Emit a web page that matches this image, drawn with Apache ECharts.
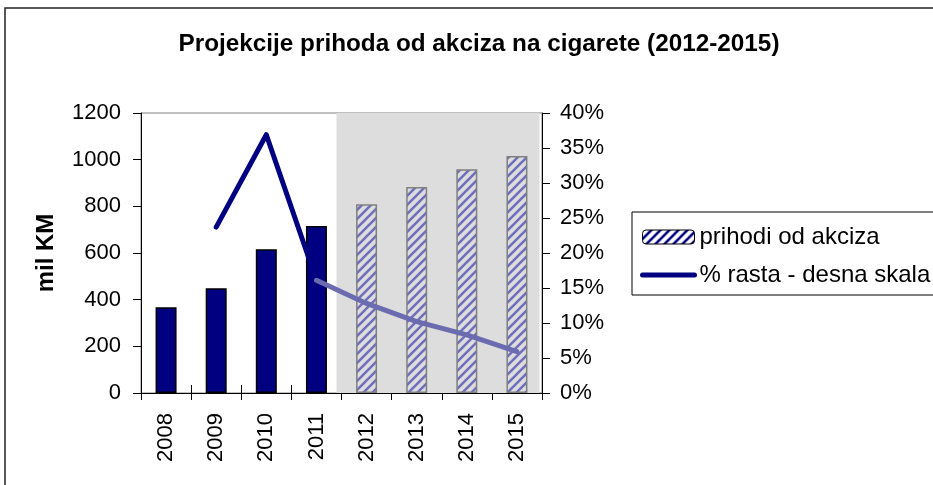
<!DOCTYPE html>
<html>
<head>
<meta charset="utf-8">
<script src="https://cdn.jsdelivr.net/npm/echarts@6/dist/echarts.min.js"></script>
<style>
html, body { margin: 0; padding: 0; background: #fff; }
#chart { width: 933px; height: 485px; }
</style>
</head>
<body>
<div id="chart"></div>
<script>
// podaci
var years = ['2008', '2009', '2010', '2011', '2012', '2013', '2014', '2015'];
var revenue = [367, 449, 616, 716, 809, 883, 959, 1016];
var growth = [null, 23.7, 36.9, 16.1, 12.8, 10.2, 8.3, 5.9];
var firstProjected = 4; // 2012

function hatch(fg, bg) {
	var c = document.createElement('canvas');
	c.width = 9; c.height = 9;
	var ctx = c.getContext('2d');
	if (bg) { ctx.fillStyle = bg; ctx.fillRect(0, 0, 9, 9); }
	ctx.strokeStyle = fg;
	ctx.lineWidth = 2.6;
	ctx.beginPath();
	ctx.moveTo(0, 9); ctx.lineTo(9, 0);
	ctx.moveTo(-3, 3); ctx.lineTo(3, -3);
	ctx.moveTo(6, 12); ctx.lineTo(12, 6);
	ctx.stroke();
	return { image: c, repeat: 'repeat' };
}

var font = '"Liberation Sans", Arial, sans-serif';

var barData = revenue.map(function (v, i) {
	if (i < firstProjected) {
		return { value: v, itemStyle: { color: '#000080', borderColor: '#000', borderWidth: 1.5 } };
	}
	return { value: v, itemStyle: { color: hatch('#6f6fbd', null), borderColor: '#808080', borderWidth: 1.5 } };
});
var growthHist = growth.map(function (v, i) { return i < firstProjected ? v : null; });
var growthProj = growth.map(function (v, i) { return i >= firstProjected - 1 ? v : null; });

var chart = echarts.init(document.getElementById('chart'));
var option = {
	animation: false,
	textStyle: { fontFamily: font, color: '#000' },
	title: {
		text: 'Projekcije prihoda od akciza na cigarete (2012-2015)',
		left: 474,
		top: 27,
		textAlign: 'center',
		textStyle: { fontSize: 24.3, fontWeight: 'bold', fontFamily: font, color: '#000' }
	},
	graphic: [{
		type: 'rect',
		shape: { x: 5, y: 8, width: 1000, height: 600 },
		style: { fill: 'none', stroke: '#222', lineWidth: 1.5 },
		silent: true
	}],
	legend: {
		orient: 'vertical',
		left: 632,
		top: 212,
		padding: [13, 40, 8, 8],
		itemWidth: 52,
		itemHeight: 14,
		itemGap: 14,
		borderColor: '#000',
		borderWidth: 1,
		textStyle: { fontSize: 24, fontFamily: font, color: '#000' },
		data: [
			{ name: 'prihodi od akciza', itemStyle: { color: hatch('#000080', '#fff'), borderColor: '#000', borderWidth: 1 } },
			{ name: '% rasta - desna skala', itemStyle: { opacity: 0 }, lineStyle: { width: 5, color: '#000080', cap: 'round' } }
		]
	},
	grid: {
		left: 141,
		right: 391,
		top: 113,
		bottom: 92,
		show: true,
		borderColor: '#808080',
		borderWidth: 1
	},
	xAxis: [{
		type: 'category',
		data: years,
		axisLine: { lineStyle: { color: '#000', width: 1 } },
		axisTick: { show: true, length: 7, lineStyle: { color: '#000' } },
		axisLabel: { rotate: 90, fontSize: 22, margin: 20, color: '#000', fontFamily: font }
	}, {
		type: 'value',
		min: 0,
		max: 8,
		interval: 1,
		position: 'bottom',
		show: true,
		axisLine: { show: false },
		axisLabel: { show: false },
		splitLine: { show: false },
		axisTick: { show: true, inside: true, length: 8, lineStyle: { color: '#000' } }
	}],
	yAxis: [{
		type: 'value',
		min: 0,
		max: 1200,
		interval: 200,
		name: 'mil KM',
		nameLocation: 'middle',
		nameRotate: 90,
		nameGap: 83,
		nameTextStyle: { fontSize: 24, fontWeight: 'bold', fontFamily: font, color: '#000' },
		axisLine: { show: true, lineStyle: { color: '#000' } },
		axisTick: { show: true, length: 8, lineStyle: { color: '#000' } },
		axisLabel: { fontSize: 22, margin: 20, color: '#000', fontFamily: font, formatter: function (v) { return String(v); } },
		splitLine: { show: false }
	}, {
		type: 'value',
		min: 0,
		max: 40,
		interval: 5,
		position: 'right',
		axisLine: { show: true, lineStyle: { color: '#000' } },
		axisTick: { show: true, length: 8, lineStyle: { color: '#000' } },
		axisLabel: { fontSize: 22, margin: 18, color: '#000', fontFamily: font, formatter: '{value}%' },
		splitLine: { show: false }
	}],
	series: [{
		// siva pozadina za projekciju
		name: 'shade',
		type: 'line',
		xAxisIndex: 1,
		yAxisIndex: 0,
		data: [],
		silent: true,
		markArea: {
			silent: true,
			itemStyle: { color: '#dddddd' },
			data: [[{ xAxis: 3.9 }, { xAxis: 7.95 }]]
		}
	}, {
		name: 'prihodi od akciza',
		type: 'bar',
		barWidth: 21,
		itemStyle: { color: hatch('#000080', '#fff'), borderColor: '#000', borderWidth: 1 },
		data: barData
	}, {
		name: '% rasta - desna skala',
		type: 'line',
		yAxisIndex: 1,
		z: 5,
		symbol: 'none',
		lineStyle: { color: '#000080', width: 5, cap: 'round', join: 'round' },
		itemStyle: { color: '#000080' },
		data: growthHist
	}, {
		name: 'rast projekcija',
		type: 'line',
		yAxisIndex: 1,
		z: 5,
		symbol: 'none',
		lineStyle: { color: '#6b6bb0', width: 5, cap: 'round', join: 'round' },
		itemStyle: { color: '#6b6bb0' },
		data: growthProj
	}]
};
chart.setOption(option);
</script>
</body>
</html>
